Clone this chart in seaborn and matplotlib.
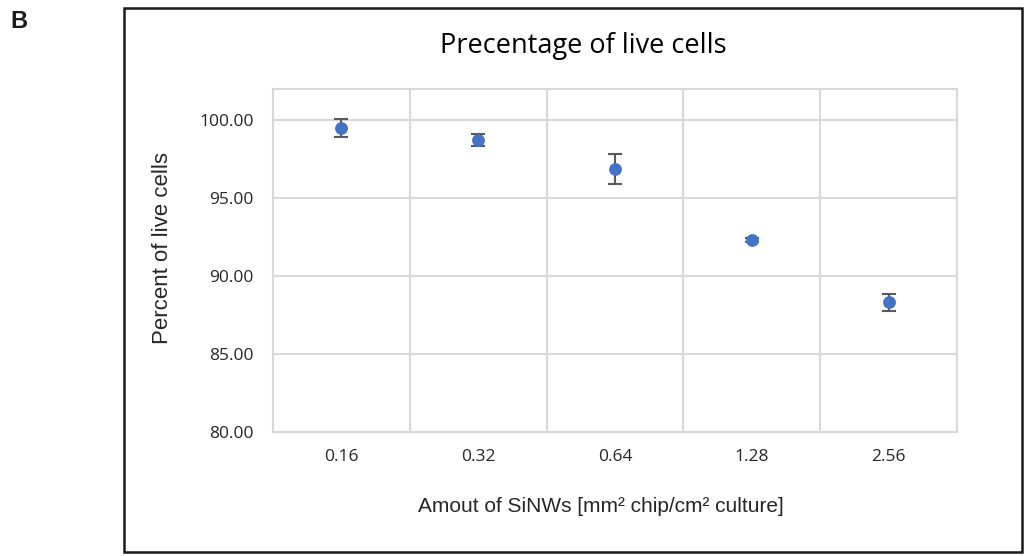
import matplotlib
matplotlib.use("Agg")
import matplotlib.pyplot as plt
import seaborn as sns
import pandas as pd
from matplotlib.patches import Rectangle

categories = ["0.16", "0.32", "0.64", "1.28", "2.56"]
percent_live = [99.5, 98.75, 96.87, 92.32, 88.33]
errors = [0.6, 0.38, 0.95, 0.15, 0.55]
y_ticks = [80, 85, 90, 95, 100]

sns.set_theme(style="white")
plt.rcParams['font.family'] = ['Liberation Sans', 'DejaVu Sans']

df = pd.DataFrame({"amount": categories, "percent": percent_live})

fig = plt.figure(figsize=(10.29, 5.56), dpi=100)
ax = fig.add_axes([273/1029, 1-432/556, (957-273)/1029, (432-89)/556])

grid_c = "#D9D9D9"
ax.errorbar(range(len(categories)), percent_live, yerr=errors, fmt="none",
            ecolor="#595959", elinewidth=1.5, capsize=5, capthick=1.5, zorder=2)
sns.scatterplot(data=df, x="amount", y="percent", ax=ax, color="#4472C4",
                s=85, edgecolor="#4472C4", linewidth=0, zorder=3, legend=False)

ax.set_xlim(-0.5, len(categories) - 0.5)
ax.set_ylim(80, 102)
ax.set_yticks(y_ticks)
ax.set_yticklabels([f"{v:.2f}" for v in y_ticks])
for v in y_ticks:
    ax.axhline(v, color=grid_c, lw=1.5, zorder=0)
for i in range(len(categories) + 1):
    ax.axvline(i - 0.5, color=grid_c, lw=1.5, zorder=0)
for s in ax.spines.values():
    s.set_color(grid_c)
    s.set_linewidth(1.5)

ax.tick_params(axis="both", length=0, labelsize=12.5, colors="#262626")
ax.tick_params(axis="y", pad=14)
ax.tick_params(axis="x", pad=12)
for lab in ax.get_xticklabels() + ax.get_yticklabels():
    lab.set_family(["Open Sans", "DejaVu Sans"])

ax.set_xlabel("Amout of SiNWs [mm² chip/cm² culture]", fontsize=15,
              color="#262626", family=["Liberation Sans", "DejaVu Sans"])
ax.set_ylabel("Percent of live cells", fontsize=16, color="#262626",
              family=["Liberation Sans", "DejaVu Sans"])
ax.xaxis.set_label_coords((601-273)/684, (432-506)/343)
ax.yaxis.set_label_coords((163-273)/684, (432-247.5)/343)
ax.xaxis.label.set_va("center")
ax.yaxis.label.set_va("center")

fig.text(583/1029, 1-46/556, "Precentage of live cells", ha="center", va="center",
         fontsize=19.5, color="#000000", family=["Open Sans", "DejaVu Sans"])
fig.text(10/1029, 1-21/556, "B", ha="left", va="center", fontsize=17,
         fontweight="bold", color="#1a1a1a")

fig.patches.append(Rectangle((124/1029, 1-552/556), (1022-124)/1029, (552-8)/556,
                             transform=fig.transFigure, fill=False,
                             edgecolor="#1a1a1a", linewidth=1.8))

fig.savefig("out.png", dpi=100)
